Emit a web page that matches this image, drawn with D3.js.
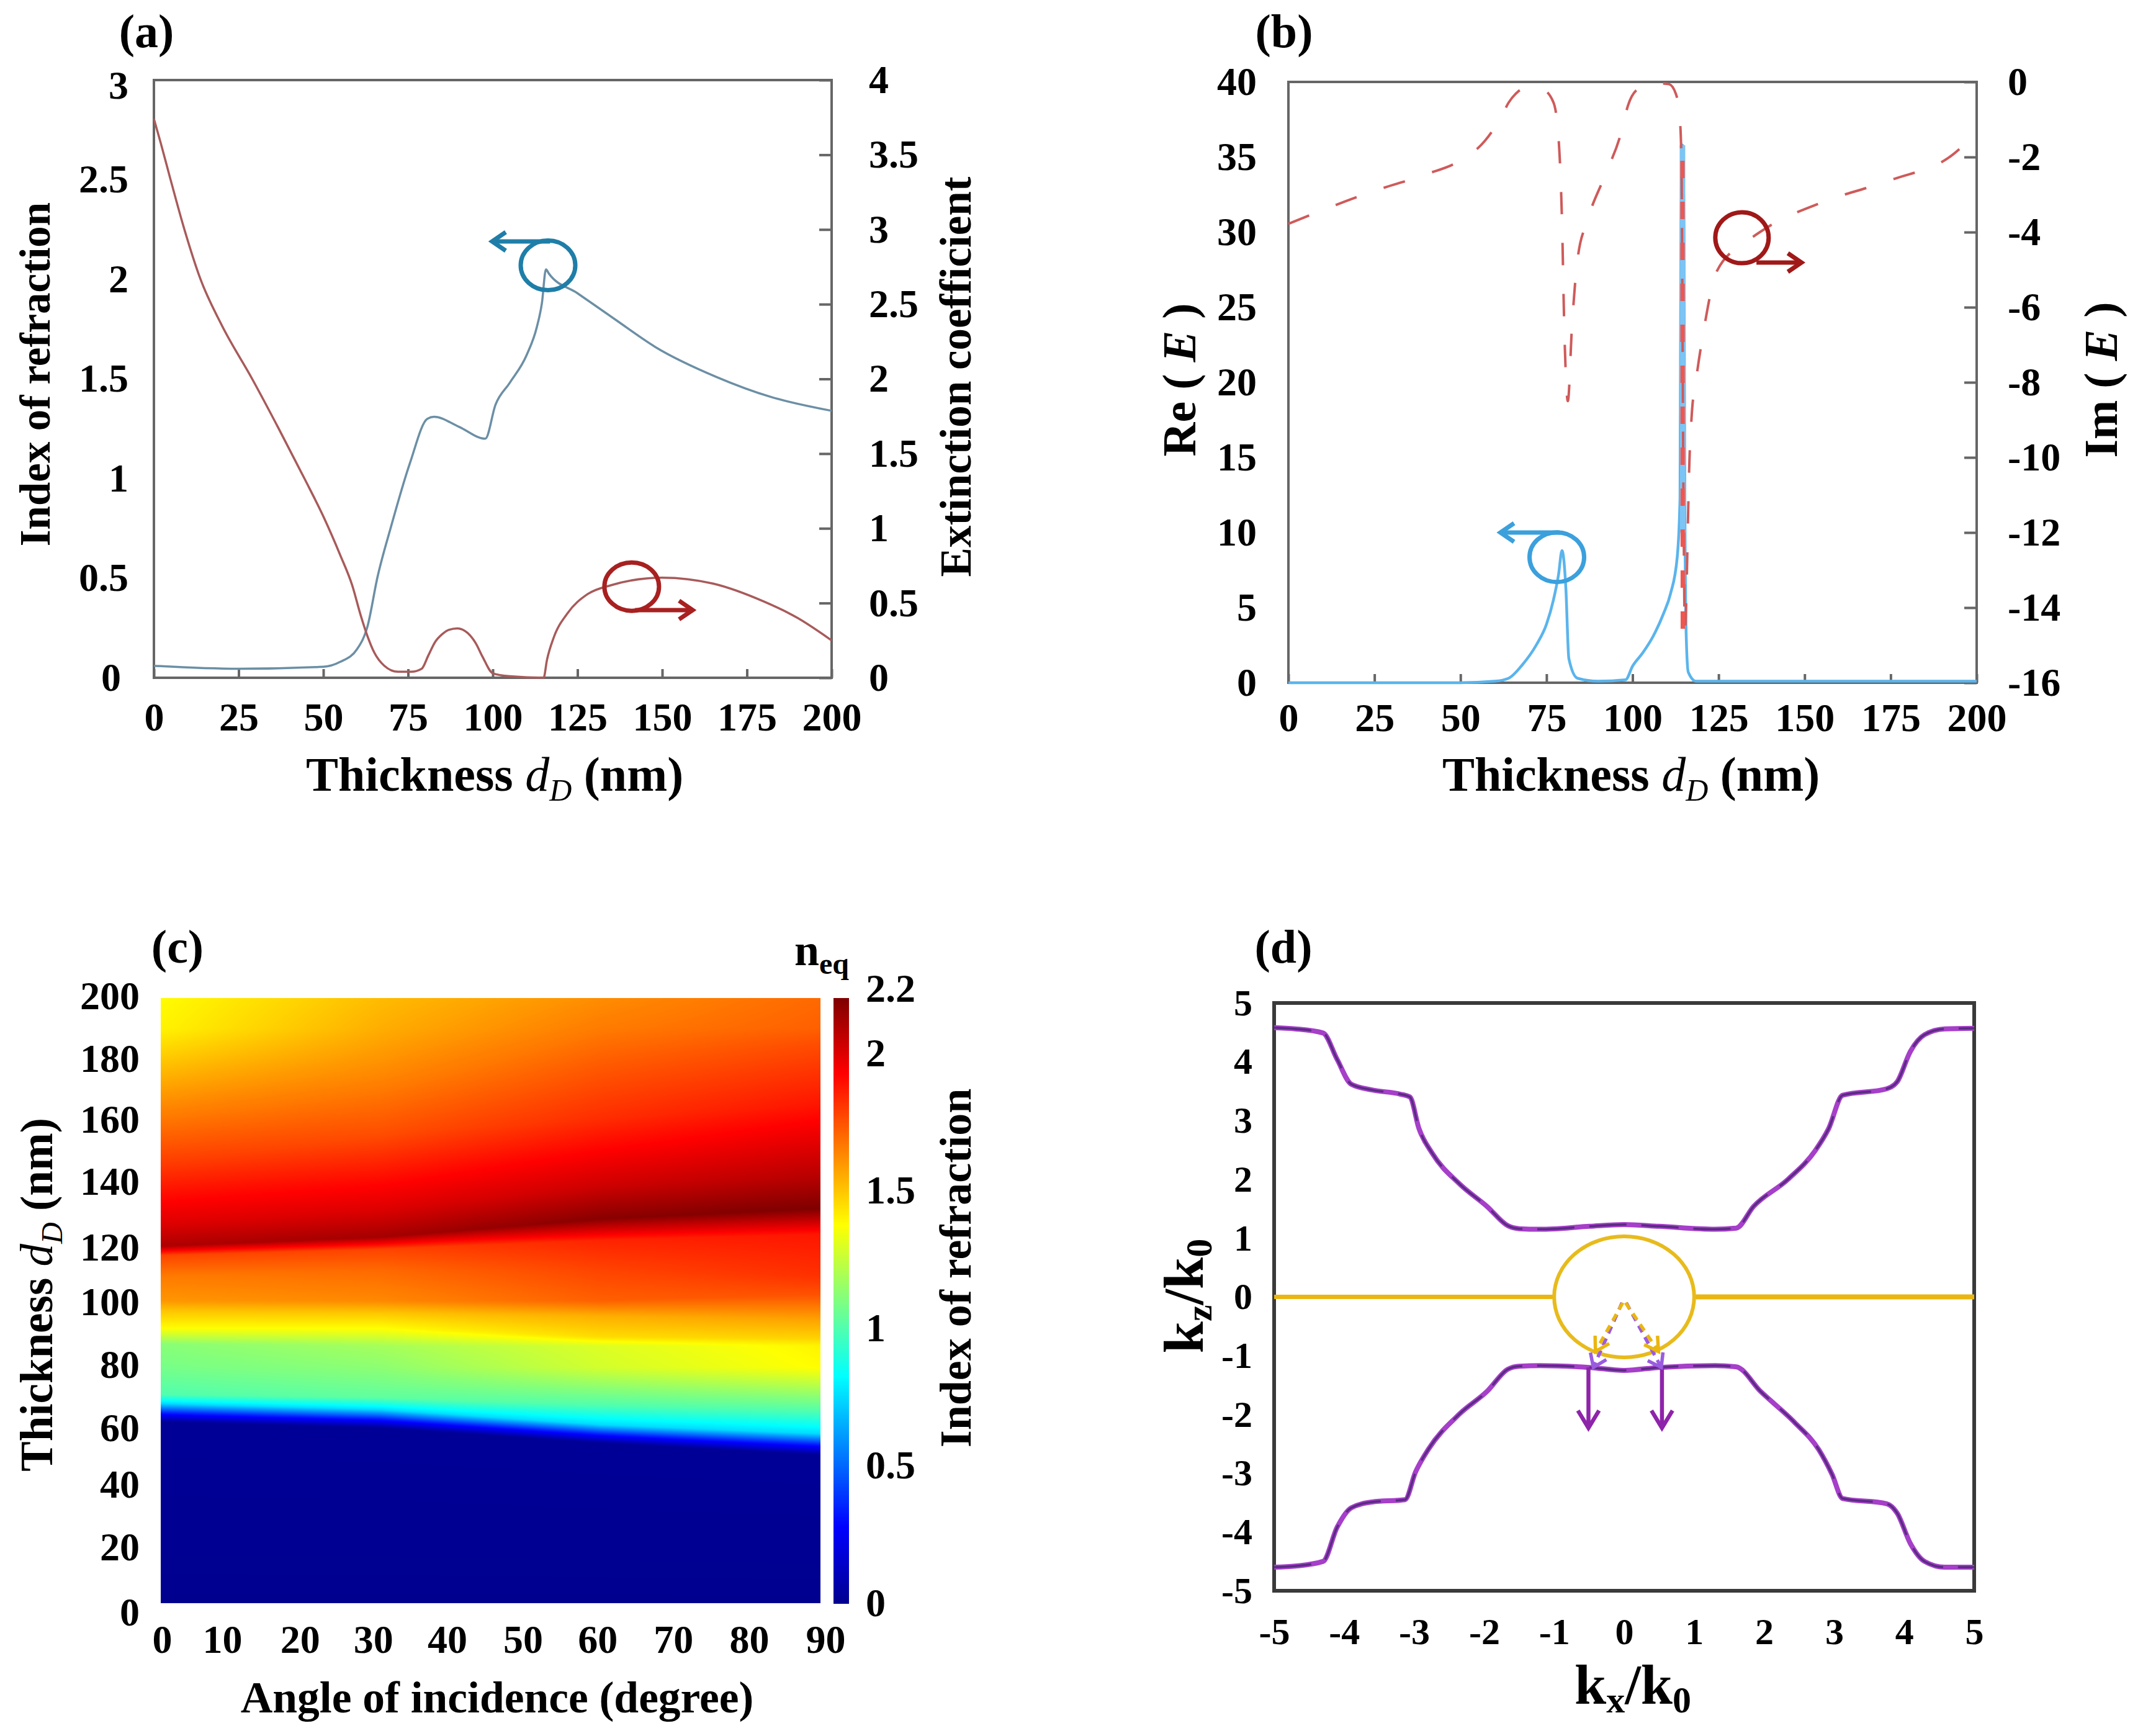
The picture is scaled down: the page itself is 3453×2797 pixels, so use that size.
<!DOCTYPE html>
<html>
<head>
<meta charset="utf-8">
<script src="https://cdn.jsdelivr.net/npm/d3@7"></script>
<style>
  html, body { margin: 0; padding: 0; background: #fff; }
  svg { display: block; }
  text { font-family: "Liberation Serif", serif; font-weight: bold; fill: #000; }
</style>
</head>
<body>
<div id="chart"></div>
<script>
// (a) index of refraction + extinction coefficient
const aBlueX = [0, 25, 50, 55, 60, 63, 66, 70, 75.6, 80.7, 82.7, 90, 97.8, 100.8, 105, 110, 113, 114.5, 115.7, 116.5, 125, 136, 148, 166, 182, 200];
const aBlueN = [0.06, 0.045, 0.055, 0.08, 0.145, 0.256, 0.507, 0.76, 1.08, 1.30, 1.31, 1.26, 1.20, 1.37, 1.48, 1.62, 1.76, 1.88, 2.05, 2.03, 1.93, 1.80, 1.66, 1.51, 1.41, 1.34];
const aRedX = [0, 2, 4.6, 9, 13.7, 20, 29, 37, 44.5, 50, 55, 58.5, 61, 63, 65, 68, 72, 76, 79, 81, 83, 85, 87, 89.5, 92, 95, 97, 100, 105, 115, 116, 118, 122, 128, 135, 150, 165, 180, 190, 200];
const aRedK = [3.74, 3.58, 3.36, 3.0, 2.67, 2.36, 2.0, 1.66, 1.33, 1.08, 0.82, 0.62, 0.42, 0.28, 0.17, 0.08, 0.04, 0.04, 0.06, 0.15, 0.24, 0.29, 0.32, 0.33, 0.31, 0.23, 0.14, 0.03, 0.01, 0, 0.12, 0.27, 0.43, 0.56, 0.62, 0.67, 0.63, 0.51, 0.40, 0.25];

// (b) Re(E) and Im(E)
const bReX = [0, 50, 60, 64, 68, 72, 75, 77, 78.5, 79.5, 80.6, 81.5, 84, 90, 98, 100, 103, 106, 109, 111, 113, 113.8, 114.05, 114.5, 114.95, 115.2, 115.6, 116.2, 118.5, 200];
const bReE = [0, 0, 0.1, 0.3, 1.2, 2.5, 3.9, 5.5, 7.2, 8.8, 6.4, 1.6, 0.3, 0.1, 0.2, 1.1, 2, 3.1, 4.6, 5.9, 8.4, 12.3, 30, 35.8, 30, 12, 3.1, 0.7, 0.1, 0.1];
const bImX = [0, 25, 40, 50, 57, 62, 64, 66, 68, 74, 77, 78.5, 79.5, 80.2, 81.2, 82.4, 84, 86.8, 91.8, 96.7, 98.7, 101.7, 106.6, 110.6, 112.6, 113.8, 114.2, 114.8, 115.2, 116.6, 117.2, 118.6, 120.6, 124.5, 133.5, 139.4, 155.3, 175.2, 193, 200];
const bImE = [-3.78, -2.9, -2.46, -2.09, -1.58, -0.9, -0.55, -0.32, -0.2, -0.22, -0.54, -1.5, -3.7, -6.66, -8.5, -6.5, -4.74, -3.71, -2.53, -1.35, -0.62, -0.18, -0.03, -0.06, -0.32, -1.06, -2.09, -11.07, -14.6, -9.9, -8.87, -7.84, -6.66, -5.04, -4.23, -3.86, -3.2, -2.61, -1.94, -1.35];
// the spike reads as one thick stroke where its two sides overlap
const bSpikeX = [114.5, 114.6];
const bSpikeRe = [35.8, 10];
const bSpikeIm = [-2.1, -14.6];

// (c) heat map: each row follows one feature of the map across the angles
const heatAngles = [0, 30, 60, 90];
const heatThick = [
  [0, 0, 0, 0], [60, 58, 53, 49], [63, 61, 56, 52.5], [66, 64, 59, 56], [69, 68, 65.5, 63.5], [78, 78, 78, 78], [85.6, 85, 85, 85],
  [91, 91, 88, 87.5], [96.6, 96, 95, 94], [100, 100, 100, 102], [108, 110, 110, 108], [115, 117, 120, 122],
  [118, 121, 127, 130.5], [125, 130, 138, 141], [145, 155, 160, 165], [170, 175, 180, 185], [190, 190, 190, 190], [200, 200, 200, 200]
];
const heatVals = [
  [0, 0, 0, 0], [0.02, 0.02, 0.02, 0.02], [0.35, 0.35, 0.35, 0.35], [0.75, 0.75, 0.75, 0.75], [1.0, 1.03, 1.0, 1.0], [1.08, 1.13, 1.28, 1.38], [1.12, 1.18, 1.3, 1.4],
  [1.38, 1.38, 1.45, 1.47], [1.5, 1.5, 1.55, 1.58], [1.6, 1.63, 1.72, 1.75], [1.66, 1.7, 1.78, 1.82], [1.78, 1.78, 1.85, 1.88],
  [2.1, 2.12, 2.18, 2.2], [2.0, 2.0, 2.03, 2.08], [1.8, 1.76, 1.83, 1.88], [1.58, 1.63, 1.72, 1.76], [1.4, 1.55, 1.66, 1.72], [1.38, 1.52, 1.62, 1.7]
];
const jetStops = [0, 0.275, 0.825, 1.375, 1.925, 2.2];
const jetColors = ["#00008f", "#0000ff", "#00ffff", "#ffff00", "#ff0000", "#7f0000"];

// (d) dispersion curves
const dUpperX = [-5, -4.7, -4.3, -4.1, -3.9, -3.6, -3.2, -3.06, -2.93, -2.74, -2.35, -1.96, -1.66, -1.5, -1.2, -0.5, 0, 0.5, 1.3, 1.6, 1.85, 2.34, 2.73, 2.92, 3.12, 3.75, 3.9, 4.09, 4.29, 4.58, 5];
const dUpperZ = [4.58, 4.56, 4.49, 4.04, 3.62, 3.52, 3.45, 3.4, 2.86, 2.44, 1.92, 1.54, 1.21, 1.16, 1.15, 1.2, 1.23, 1.2, 1.15, 1.17, 1.54, 2.0, 2.49, 2.86, 3.43, 3.54, 3.66, 4.18, 4.46, 4.56, 4.57];
const dLowerX = [-5, -4.7, -4.3, -4.1, -3.9, -3.6, -3.13, -2.98, -2.8, -2.35, -1.96, -1.66, -1.5, -1.2, -0.5, 0, 0.5, 1.3, 1.6, 1.95, 2.43, 2.78, 2.97, 3.12, 3.75, 3.9, 4.09, 4.29, 4.58, 5];
const dLowerZ = [-4.6, -4.58, -4.5, -3.92, -3.59, -3.49, -3.45, -2.98, -2.6, -1.99, -1.61, -1.23, -1.18, -1.17, -1.2, -1.25, -1.2, -1.17, -1.19, -1.61, -2.13, -2.6, -3.02, -3.43, -3.52, -3.68, -4.2, -4.5, -4.6, -4.6];

const thickTicks = [0, 25, 50, 75, 100, 125, 150, 175, 200];

const svg = d3.select("#chart").append("svg").attr("width", 3453).attr("height", 2797);
svg.append("rect").attr("width", 3453).attr("height", 2797).attr("fill", "#fff");

function styleAxis(g, size) {
  g.attr("font-size", size).attr("font-family", null);
  g.select(".domain").remove();
  g.selectAll("line").attr("stroke", "#666").attr("stroke-width", 4);
  g.selectAll("text").attr("fill", "#000");
  return g;
}

function lineOf(xs, ys, x, y) {
  return d3.line().x((d, i) => x(xs[i])).y((d, i) => y(ys[i])).curve(d3.curveMonotoneX)(xs);
}

// straight arrow with an open head, ends given in pixels from the scales
function arrow(x1, y1, x2, y2, color, width, len, half, dash) {
  const a = Math.atan2(y2 - y1, x2 - x1);
  const ln = svg.append("line").attr("x1", x1).attr("y1", y1).attr("x2", x2).attr("y2", y2)
    .attr("stroke", color).attr("stroke-width", width);
  if (dash) ln.attr("stroke-dasharray", dash);
  const hx = x2 - len * Math.cos(a), hy = y2 - len * Math.sin(a);
  const p = d3.path();
  p.moveTo(hx - half * Math.sin(a), hy + half * Math.cos(a));
  p.lineTo(x2, y2);
  p.lineTo(hx + half * Math.sin(a), hy - half * Math.cos(a));
  svg.append("path").attr("d", p.toString()).attr("fill", "none").attr("stroke", color).attr("stroke-width", width);
}

function ring(cx, cy, rx, ry, color, width) {
  svg.append("ellipse").attr("cx", cx).attr("cy", cy).attr("rx", rx).attr("ry", ry)
    .attr("fill", "none").attr("stroke", color).attr("stroke-width", width);
}

function title(x, y, rotate, anchor, size, parts) {
  const t = svg.append("text").attr("font-size", size).attr("text-anchor", anchor)
    .attr("transform", "translate(" + x + "," + y + ")" + (rotate ? " rotate(-90)" : ""));
  parts.forEach(p => {
    const s = t.append("tspan").text(p.text);
    if (p.italic) s.attr("font-style", "italic");
    if (p.plain) s.style("font-weight", "normal");
    if (p.size) s.attr("font-size", p.size);
    if (p.dy) s.attr("dy", p.dy);
  });
  return t;
}

function thicknessParts(sub) {
  return [
    { text: "Thickness " }, { text: "d", italic: true, plain: true },
    { text: "D", italic: true, plain: true, size: sub, dy: 16 }, { text: " (nm)", dy: -16 }
  ];
}

// ---- panel a
{
  const L = 248, R = 1340, T = 129, B = 1092;
  const x = d3.scaleLinear().domain([0, 200]).range([L, R]);
  const yN = d3.scaleLinear().domain([0, 3]).range([B, T]);
  const yK = d3.scaleLinear().domain([0, 4]).range([B, T]);

  styleAxis(svg.append("g").attr("transform", "translate(0," + B + ")")
    .call(d3.axisBottom(x).tickValues(thickTicks).tickSize(-14).tickPadding(40).tickFormat(String)), 64);
  const gl = styleAxis(svg.append("g").attr("transform", "translate(" + L + ",0)")
    .call(d3.axisLeft(yN).tickValues([0, 0.5, 1, 1.5, 2, 2.5, 3]).tickSize(0).tickPadding(41).tickFormat(String)), 64);
  gl.selectAll("text").attr("dx", d => d === 0 ? -12 : 0).attr("y", d => d === 3 ? 9 : 0);
  styleAxis(svg.append("g").attr("transform", "translate(" + R + ",0)")
    .call(d3.axisRight(yK).tickValues(d3.range(0, 4.5, 0.5)).tickSize(-20).tickPadding(60).tickFormat(String)), 64);
  svg.append("rect").attr("x", L).attr("y", T).attr("width", R - L).attr("height", B - T)
    .attr("fill", "none").attr("stroke", "#666").attr("stroke-width", 4);

  svg.append("path").attr("d", lineOf(aBlueX, aBlueN, x, yN)).attr("fill", "none").attr("stroke", "#6b8fa5").attr("stroke-width", 3.5);
  svg.append("path").attr("d", lineOf(aRedX, aRedK, x, yK)).attr("fill", "none").attr("stroke", "#a85a5a").attr("stroke-width", 3.5);

  ring(x(116.3), yN(2.07), 44, 40, "#1f7ea8", 7);
  arrow(x(116.9), yN(2.19), x(99.8), yN(2.19), "#1f7ea8", 7, 22, 15);
  ring(x(141), yK(0.61), 44, 39, "#a82020", 7);
  arrow(x(142), yK(0.453), x(159), yK(0.453), "#a82020", 7, 22, 15);

  title(236, 76, false, "middle", 76, [{ text: "(a)" }]);
  title(797, 1274, false, "middle", 78, thicknessParts(50));
  title(80, 603, true, "middle", 69, [{ text: "Index of refraction" }]);
  title(1564, 607, true, "middle", 71, [{ text: "Extinction coefficient" }]);
}

// ---- panel b
{
  const L = 2076, R = 3185, T = 132, B = 1100;
  const x = d3.scaleLinear().domain([0, 200]).range([L, R]);
  const yRe = d3.scaleLinear().domain([0, 40]).range([B, T]);
  const yIm = d3.scaleLinear().domain([-16, 0]).range([B, T]);

  styleAxis(svg.append("g").attr("transform", "translate(0," + B + ")")
    .call(d3.axisBottom(x).tickValues(thickTicks).tickSize(-14).tickPadding(33).tickFormat(String)), 64);
  styleAxis(svg.append("g").attr("transform", "translate(" + L + ",0)")
    .call(d3.axisLeft(yRe).tickValues(d3.range(0, 45, 5)).tickSize(0).tickPadding(51).tickFormat(String)), 64);
  styleAxis(svg.append("g").attr("transform", "translate(" + R + ",0)")
    .call(d3.axisRight(yIm).tickValues(d3.range(-16, 2, 2)).tickSize(-20).tickPadding(50).tickFormat(String)), 64);
  svg.append("rect").attr("x", L).attr("y", T).attr("width", R - L).attr("height", B - T)
    .attr("fill", "none").attr("stroke", "#666").attr("stroke-width", 4);

  svg.append("path").attr("d", lineOf(bReX, bReE, x, yRe)).attr("fill", "none").attr("stroke", "#5ab4ec").attr("stroke-width", 4.5);
  svg.append("path").attr("d", lineOf(bSpikeX, bSpikeRe, x, yRe)).attr("fill", "none").attr("stroke", "#7cc4f4").attr("stroke-width", 9);
  svg.append("path").attr("d", lineOf(bImX, bImE, x, yIm)).attr("fill", "none").attr("stroke", "#cf5a5a")
    .attr("stroke-width", 4).attr("stroke-dasharray", "36 46");
  svg.append("path").attr("d", lineOf(bSpikeX, bSpikeIm, x, yIm)).attr("fill", "none").attr("stroke", "#f0564f")
    .attr("stroke-width", 7).attr("stroke-dasharray", "28 38");

  ring(x(78), yRe(8.36), 44, 40, "#3ba0dc", 7);
  arrow(x(78.8), yRe(10), x(61.6), yRe(10), "#3ba0dc", 7, 22, 15);
  ring(x(131.8), yIm(-4.15), 43, 41, "#a01818", 7);
  arrow(x(136), yIm(-4.81), x(149.1), yIm(-4.81), "#a01818", 7, 22, 15);

  title(2069, 76, false, "middle", 76, [{ text: "(b)" }]);
  title(2628, 1274, false, "middle", 78, thicknessParts(50));
  title(1926, 612, true, "middle", 76, [{ text: "Re ( " }, { text: "E", italic: true }, { text: " )" }]);
  title(3411, 612, true, "middle", 76, [{ text: "Im ( " }, { text: "E", italic: true }, { text: " )" }]);
}

// ---- panel c
{
  const L = 259, R = 1322, T = 1608, B = 2583, cbL = 1343, cbR = 1368;
  const x = d3.scaleLinear().domain([0, 90]).range([L, R]);
  const y = d3.scaleLinear().domain([0, 200]).range([B, T]);
  const color = d3.scaleLinear().domain(jetStops).range(jetColors);
  const yBar = d3.scaleLinear().domain([0, 2.2]).range([B, T]);

  // lookup table so the pixel loop does not parse a colour each time
  const table = d3.range(0, 1025).map(i => d3.rgb(color(i / 1024 * 2.2)));

  const w = R - L, h = B - T;
  const canvas = document.createElement("canvas");
  canvas.width = w; canvas.height = h;
  const ctx = canvas.getContext("2d");
  const img = ctx.createImageData(w, h);
  const thickAt = heatThick.map(r => d3.scaleLinear().domain(heatAngles).range(r));
  const valAt = heatVals.map(r => d3.scaleLinear().domain(heatAngles).range(r));
  for (let px = 0; px < w; px++) {
    const angle = x.invert(L + px + 0.5);
    const col = d3.scaleLinear().domain(thickAt.map(f => f(angle))).range(valAt.map(f => f(angle))).clamp(true);
    for (let py = 0; py < h; py++) {
      const v = col(y.invert(T + py + 0.5));
      const c = table[Math.max(0, Math.min(1024, Math.round(v / 2.2 * 1024)))];
      const k = (py * w + px) * 4;
      img.data[k] = c.r; img.data[k + 1] = c.g; img.data[k + 2] = c.b; img.data[k + 3] = 255;
    }
  }
  ctx.putImageData(img, 0, 0);
  svg.append("image").attr("x", L).attr("y", T).attr("width", w).attr("height", h).attr("href", canvas.toDataURL());

  // colour bar
  svg.append("g").selectAll("rect").data(d3.range(0, 2.2, 0.005)).join("rect")
    .attr("x", cbL).attr("width", cbR - cbL)
    .attr("y", d => yBar(d + 0.005)).attr("height", d => yBar(d) - yBar(d + 0.005) + 1)
    .attr("fill", d => color(d));

  // the printed tick labels do not sit exactly on their positions
  const xNudge = [2, -19, -12, -12, -11, -7, -5, -1, 3, 8];
  const yNudge = [15, 8, 4, 11, 6, 3, 12, 4, 1, 1, -3];
  const gx = styleAxis(svg.append("g").attr("transform", "translate(0," + B + ")")
    .call(d3.axisBottom(x).tickValues(d3.range(0, 100, 10)).tickSize(0).tickPadding(35).tickFormat(String)), 64);
  gx.selectAll("text").attr("dx", (d, i) => xNudge[i]);
  const gy = styleAxis(svg.append("g").attr("transform", "translate(" + L + ",0)")
    .call(d3.axisLeft(y).tickValues(d3.range(0, 220, 20)).tickSize(0).tickPadding(34).tickFormat(String)), 64);
  gy.selectAll("text").attr("y", (d, i) => yNudge[i]);
  const gb = styleAxis(svg.append("g").attr("transform", "translate(" + cbR + ",0)")
    .call(d3.axisRight(yBar).tickValues([0, 0.5, 1, 1.5, 2, 2.2]).tickSize(0).tickPadding(27).tickFormat(String)), 64);
  gb.selectAll("text").attr("y", d => d === 2.2 ? -15 : 0);

  title(286, 1551, false, "middle", 76, [{ text: "(c)" }]);
  title(1280, 1555, false, "start", 72, [{ text: "n" }, { text: "eq", size: 48, dy: 14 }]);
  title(801, 2759, false, "middle", 71.5, [{ text: "Angle of incidence (degree)" }]);
  title(84, 2086, true, "middle", 73, thicknessParts(48));
  title(1564, 2043, true, "middle", 72, [{ text: "Index of refraction" }]);
}

// ---- panel d
{
  const L = 2053, R = 3181, T = 1616, B = 2563;
  const x = d3.scaleLinear().domain([-5, 5]).range([L, R]);
  const y = d3.scaleLinear().domain([-5, 5]).range([B, T]);
  const tk = d3.range(-5, 6);

  styleAxis(svg.append("g").attr("transform", "translate(0," + B + ")")
    .call(d3.axisBottom(x).tickValues(tk).tickSize(0).tickPadding(43).tickFormat(String)), 60);
  styleAxis(svg.append("g").attr("transform", "translate(" + L + ",0)")
    .call(d3.axisLeft(y).tickValues(tk).tickSize(0).tickPadding(35).tickFormat(String)), 60);
  svg.append("rect").attr("x", L).attr("y", T).attr("width", R - L).attr("height", B - T)
    .attr("fill", "none").attr("stroke", "#3a3a3a").attr("stroke-width", 6);

  // gold light line and circle
  const gold = "#eab60f";
  svg.append("line").attr("x1", x(-5)).attr("x2", x(-1.02)).attr("y1", y(0)).attr("y2", y(0)).attr("stroke", gold).attr("stroke-width", 7);
  svg.append("line").attr("x1", x(1.02)).attr("x2", x(5)).attr("y1", y(0)).attr("y2", y(0)).attr("stroke", gold).attr("stroke-width", 8);
  ring(x(0), y(0), x(1) - x(0), y(0) - y(1.03), "#e8bb1c", 6);

  [[dUpperX, dUpperZ], [dLowerX, dLowerZ]].forEach(c => {
    svg.append("path").attr("d", lineOf(c[0], c[1], x, y)).attr("fill", "none").attr("stroke", "#a63fc9").attr("stroke-width", 8);
    svg.append("path").attr("d", lineOf(c[0], c[1], x, y)).attr("fill", "none").attr("stroke", "#43286e")
      .attr("stroke-width", 3.5).attr("stroke-opacity", 0.8).attr("stroke-dasharray", "60 24");
  });

  // incident and refracted arrows
  arrow(x(-0.51), y(-1.2), x(-0.51), y(-2.23), "#8e24aa", 6.5, 28, 17);
  arrow(x(0.54), y(-1.2), x(0.54), y(-2.23), "#8e24aa", 6.5, 28, 17);
  arrow(x(-0.03), y(-0.1), x(-0.44), y(-1.2), "#9a5be0", 5.5, 20, 14, "12 9");
  arrow(x(0.03), y(-0.1), x(0.53), y(-1.2), "#9a5be0", 5.5, 20, 14, "12 9");
  arrow(x(-0.02), y(-0.1), x(-0.41), y(-0.93), gold, 5.5, 22, 13, "12 9");
  arrow(x(0.02), y(-0.1), x(0.49), y(-0.93), gold, 5.5, 22, 13, "12 9");

  title(2068, 1551, false, "middle", 76, [{ text: "(d)" }]);
  title(2631, 2745, false, "middle", 92, [
    { text: "k" }, { text: "x", size: 60, dy: 14 }, { text: "/k", dy: -14 }, { text: "0", size: 60, dy: 14 }
  ]);
  title(1938, 2088, true, "middle", 92, [
    { text: "k" }, { text: "z", size: 60, dy: 14 }, { text: "/k", dy: -14 }, { text: "0", size: 60, dy: 14 }
  ]);
}
</script>
</body>
</html>
